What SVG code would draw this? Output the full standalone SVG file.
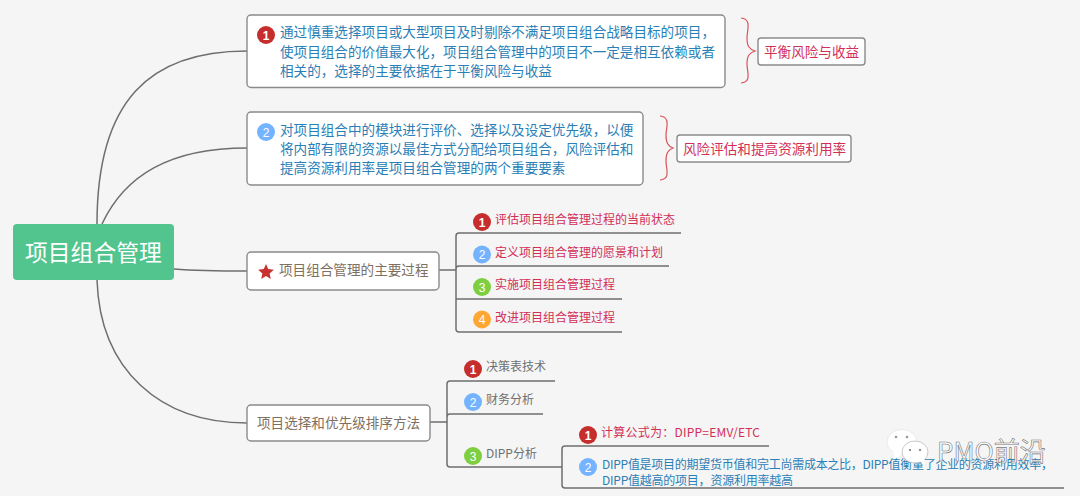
<svg xmlns="http://www.w3.org/2000/svg" width="1080" height="496" viewBox="0 0 1080 496">
<style>
text{font-family:"Noto Sans CJK SC","Liberation Sans",sans-serif}
.box{fill:#fff;stroke:#8a8a8a;stroke-width:1.4}
.conn{fill:none;stroke:#6e6e6e;stroke-width:1.5}
.br{fill:none;stroke:#d9535b;stroke-width:1.2}
.blue{font-size:13.6px;fill:#2a80b6}
.blues{font-size:12px;fill:#2a80b6}
.red{font-size:13.6px;fill:#d22f57}
.reds{font-size:12px;fill:#d22f57}
.brown{font-size:13.6px;fill:#7f6f60}
.gray{font-size:12px;fill:#707070}
.num{font-size:12px;fill:#fff;text-anchor:middle;font-family:"Liberation Sans",sans-serif}
.r1{fill:#c62d2d}.r2{fill:#74b3ff}.r3{fill:#7dcf3f}.r4{fill:#ffa733}
</style>
<rect width="1080" height="496" fill="#f5f5f5"/>
<g id="connectors">
<path class="conn" d="M97 224C97 100 150 51 247 51"/>
<path class="conn" d="M102 224C125 175 170 148 247 148"/>
<path class="conn" d="M174 269C200 271 220 271 247 271"/>
<path class="conn" d="M97 280C100 370 160 423 247 423"/>
<path class="conn" d="M439 270H456M681 233H459Q456 233 456 236V329Q456 332 459 332H622M669 266H459Q456 266 456 269M622 299H456"/>
<path class="conn" d="M430 422H447M555 381H450Q447 381 447 384V464Q447 467 450 467H562M543 414H450Q447 414 447 417"/>
<path class="conn" d="M769 446H565Q562 446 562 449V485Q562 488 565 488H1064"/>
<path class="br" d="M741 18C752 19 747 30 747 38C747 46 749 49 755 51C749 53 747 56 747 64C747 72 752 82 741 83"/>
<path class="br" d="M660 116C671 117 666 128 666 135C666 143 668 146 673 148C668 150 666 153 666 161C666 169 671 179 660 180"/>
</g>
<g id="root"><rect x="13" y="224" width="161" height="56" rx="4" fill="#52c58f"/><text x="25" y="261" font-size="22.8" fill="#fff">项目组合管理</text></g>
<g id="node1"><rect class="box" x="247" y="15" width="478" height="72.500" rx="4"/><circle class="r1" cx="266" cy="35" r="9"/><text class="num" x="266" y="40" font-weight="bold" font-size="13">1</text>
<text class="blue" x="280" y="37">通过慎重选择项目或大型项目及时剔除不满足项目组合战略目标的项目，</text><text class="blue" x="280" y="57">使项目组合的价值最大化，项目组合管理中的项目不一定是相互依赖或者</text><text class="blue" x="280" y="76">相关的，选择的主要依据在于平衡风险与收益</text></g>
<g id="node2"><rect class="box" x="247" y="112" width="396" height="73" rx="4"/><circle class="r2" cx="266" cy="132" r="9"/><text class="num" x="266" y="137">2</text>
<text class="blue" x="280" y="135">对项目组合中的模块进行评价、选择以及设定优先级，以便</text><text class="blue" x="280" y="154">将内部有限的资源以最佳方式分配给项目组合，风险评估和</text><text class="blue" x="280" y="173">提高资源利用率是项目组合管理的两个重要要素</text></g>
<g id="note1"><rect class="box" x="758" y="38" width="107" height="27" rx="3"/><text class="red" x="764" y="56.500">平衡风险与收益</text></g>
<g id="note2"><rect class="box" x="677" y="135" width="174" height="27" rx="3"/><text class="red" x="683" y="153.500">风险评估和提高资源利用率</text></g>
<g id="node3"><rect class="box" x="247" y="252" width="192" height="38" rx="4"/><polygon points="266,264 268.200,269.100 273.800,269.700 269.600,273.400 270.800,278.900 266,276.100 261.200,278.900 262.400,273.400 258.200,269.700 263.800,269.100" fill="#c9302f"/><text class="brown" x="279" y="275">项目组合管理的主要过程</text></g>
<g id="p1"><circle class="r1" cx="482" cy="222" r="9"/><text class="num" x="482" y="227" font-weight="bold" font-size="13">1</text><text class="reds" x="495" y="224">评估项目组合管理过程的当前状态</text></g>
<g id="p2"><circle class="r2" cx="482" cy="254.500" r="9"/><text class="num" x="482" y="259">2</text><text class="reds" x="495" y="257">定义项目组合管理的愿景和计划</text></g>
<g id="p3"><circle class="r3" cx="482" cy="287" r="9"/><text class="num" x="482" y="291.500">3</text><text class="reds" x="495" y="289">实施项目组合管理过程</text></g>
<g id="p4"><circle class="r4" cx="482" cy="319.500" r="9"/><text class="num" x="482" y="324">4</text><text class="reds" x="495" y="322">改进项目组合管理过程</text></g>
<g id="node4"><rect class="box" x="247" y="405" width="183" height="36" rx="4"/><text class="brown" x="257" y="428">项目选择和优先级排序方法</text></g>
<g id="m1"><circle class="r1" cx="473" cy="369" r="9"/><text class="num" x="473" y="374" font-weight="bold" font-size="13">1</text><text class="gray" x="486" y="371">决策表技术</text></g>
<g id="m2"><circle class="r2" cx="473" cy="402" r="9"/><text class="num" x="473" y="406.500">2</text><text class="gray" x="486" y="404">财务分析</text></g>
<g id="m3"><circle class="r3" cx="473" cy="456" r="9"/><text class="num" x="473" y="460.500">3</text><text class="gray" x="486" y="458">DIPP分析</text></g>
<g id="s1"><circle class="r1" cx="588" cy="435" r="9"/><text class="num" x="588" y="440" font-weight="bold" font-size="13">1</text><text class="reds" x="601" y="436.500" textLength="159">计算公式为：DIPP=EMV/ETC</text></g>
<g id="s2"><circle class="r2" cx="588" cy="467" r="9"/><text class="num" x="588" y="471.500">2</text><text class="blues" x="602" y="468.500" textLength="451">DIPP值是项目的期望货币值和完工尚需成本之比，DIPP值衡量了企业的资源利用效率，</text><text class="blues" x="602" y="484.500" textLength="191">DIPP值越高的项目，资源利用率越高</text></g>
<g id="watermark">
<ellipse cx="902" cy="442" rx="15" ry="12.500" fill="#fff" stroke="#ddd" stroke-width=".6"/><path d="M893 451L895 459L902 454Z" fill="#fff"/>
<ellipse cx="915" cy="452" rx="13" ry="11" fill="#fff" stroke="#bbb" stroke-width=".8"/><path d="M920 461L924 466L924 458Z" fill="#fff"/>
<circle cx="896" cy="437" r="1.300" fill="#999"/><circle cx="907" cy="437" r="1.300" fill="#999"/><circle cx="910" cy="450" r="1.100" fill="#777"/><circle cx="920" cy="450" r="1.100" fill="#777"/>
<text x="937" y="461" font-size="26" fill="#fff" stroke="#777" stroke-width=".6">PMO前沿</text>
</g>
</svg>
